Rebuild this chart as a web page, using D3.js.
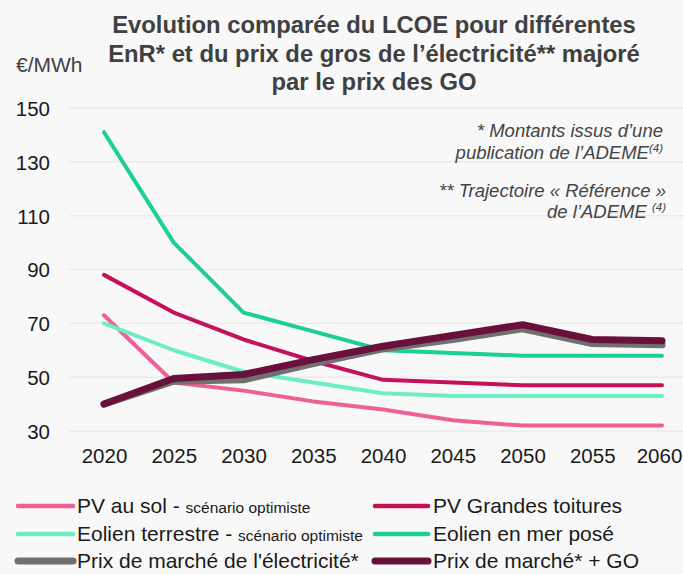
<!DOCTYPE html>
<html>
<head>
<meta charset="utf-8">
<script src="https://cdn.jsdelivr.net/npm/d3@7"></script>
<style>
  html, body { margin: 0; padding: 0; background: #f8f8f8; }
  svg { display: block; font-family: "Liberation Sans", Arial, sans-serif; }
</style>
</head>
<body>
<div id="chart"></div>
<script>
const years = [2020, 2025, 2030, 2035, 2040, 2045, 2050, 2055, 2060];
const yTicks = [30, 50, 70, 90, 110, 130, 150];

const pvSol        = [73, 48, 45, 41, 38, 34, 32, 32, 32];
const pvToitures   = [88, 74, 64, 56, 49, 48, 47, 47, 47];
const eolTerrestre = [70, 60, 52, 48, 44, 43, 43, 43, 43];
const eolMer       = [141, 100, 74, 67, 60, 59, 58, 58, 58];
const prixMarche   = [40, 48.5, 49, 55, 60.5, 64, 68, 62.5, 62];
const prixGO       = [40, 49.5, 51, 56.5, 61.5, 65.5, 69.5, 64, 63.5];

const titleLines = [
  'Evolution comparée du LCOE pour différentes',
  'EnR* et du prix de gros de l\u2019électricité** majoré',
  'par le prix des GO'
];

// draw order: thin lines first, gray under purple
const series = [
  { name: 'PV au sol', sub: 'scénario optimiste', values: pvSol, color: '#ef5f98', w: 4, col: 0, row: 0 },
  { name: 'PV Grandes toitures', values: pvToitures, color: '#c3115a', w: 4, col: 1, row: 0 },
  { name: 'Eolien terrestre', sub: 'scénario optimiste', values: eolTerrestre, color: '#6cedc6', w: 4, col: 0, row: 1 },
  { name: 'Eolien en mer posé', values: eolMer, color: '#1ccf93', w: 4, col: 1, row: 1 },
  { name: 'Prix de marché de l\'électricité*', values: prixMarche, color: '#707070', w: 7, col: 0, row: 2 },
  { name: 'Prix de marché* + GO', values: prixGO, color: '#69103c', w: 7, col: 1, row: 2 }
];

const width = 683, height = 574;
const FONT = '"Liberation Sans", Arial, sans-serif';
const svg = d3.select('#chart').append('svg')
  .attr('width', width).attr('height', height);

svg.append('rect').attr('width', width).attr('height', height).attr('fill', '#f8f8f8');

const x = d3.scaleLinear().domain([2020, 2060]).range([104, 662]);
const y = d3.scaleLinear().domain([30, 150]).range([431, 108]);

// grid
svg.append('g').selectAll('line').data(yTicks).join('line')
  .attr('x1', 69).attr('x2', width)
  .attr('y1', d => y(d)).attr('y2', d => y(d))
  .attr('stroke', '#ebebeb').attr('stroke-width', 1.5);

const yAxis = d3.axisLeft(y).tickValues(yTicks).tickSize(0).tickPadding(0);
const gy = svg.append('g').attr('transform', 'translate(50,0)').call(yAxis);
gy.select('.domain').remove();
gy.selectAll('text').attr('font-size', 20.5).attr('fill', '#1a1a1a')
  .attr('font-family', FONT).attr('dy', '0.36em');

const xAxis = d3.axisBottom(x).tickValues(years).tickFormat(d3.format('d')).tickSize(0).tickPadding(0);
const gx = svg.append('g').attr('transform', 'translate(0,448)').call(xAxis);
gx.select('.domain').remove();
gx.selectAll('text').attr('font-size', 20.5).attr('fill', '#1a1a1a')
  .attr('font-family', FONT).attr('dy', '0.75em')
  .attr('dx', d => d === 2060 ? -3 : 0);

// lines
const line = d3.line().x((d, i) => x(years[i])).y(d => y(d));
svg.append('g').selectAll('path').data(series).join('path')
  .attr('d', d => line(d.values))
  .attr('fill', 'none')
  .attr('stroke', d => d.color)
  .attr('stroke-width', d => d.w)
  .attr('stroke-linecap', 'round')
  .attr('stroke-linejoin', 'round');

// title
svg.append('text').attr('text-anchor', 'middle')
  .attr('font-size', 23.8).attr('font-weight', 'bold').attr('fill', '#404040')
  .selectAll('tspan').data(titleLines).join('tspan')
  .attr('x', 374).attr('y', (d, i) => 33 + i * 28.5).text(d => d);

svg.append('text').attr('x', 16).attr('y', 72)
  .attr('font-size', 21).attr('fill', '#404040').text('€/MWh');

// notes
const notes = svg.append('g').attr('font-size', 18.5).attr('font-style', 'italic')
  .attr('fill', '#444').attr('text-anchor', 'end');
notes.append('text').attr('x', 663).attr('y', 137).text('* Montants issus d\u2019une');
const n2 = notes.append('text').attr('x', 663).attr('y', 159);
n2.append('tspan').text('publication de l\u2019ADEME');
n2.append('tspan').attr('font-size', 11.5).attr('dy', -7).text('(4)');
notes.append('text').attr('x', 666).attr('y', 197).text('** Trajectoire « Référence »');
const n4 = notes.append('text').attr('x', 666).attr('y', 218);
n4.append('tspan').text('de l\u2019ADEME ');
n4.append('tspan').attr('font-size', 11.5).attr('dy', -7).text('(4)');

// legend
const legCols = [{ x1: 18, x2: 73, tx: 77 }, { x1: 375, x2: 428, tx: 433 }];
const legRows = [506, 534, 561];
const leg = svg.append('g').selectAll('g').data(series).join('g')
  .attr('transform', d => `translate(0,${legRows[d.row]})`);
leg.append('line')
  .attr('x1', d => legCols[d.col].x1).attr('x2', d => legCols[d.col].x2)
  .attr('stroke', d => d.color).attr('stroke-width', d => d.w === 7 ? 7 : 4.5)
  .attr('stroke-linecap', 'round');
const lt = leg.append('text').attr('x', d => legCols[d.col].tx).attr('y', 7)
  .attr('font-size', 21).attr('fill', '#1a1a1a');
lt.append('tspan').text(d => d.sub ? d.name + ' - ' : d.name);
lt.filter(d => d.sub).append('tspan').attr('font-size', 15.5).text(d => d.sub);
</script>
</body>
</html>
